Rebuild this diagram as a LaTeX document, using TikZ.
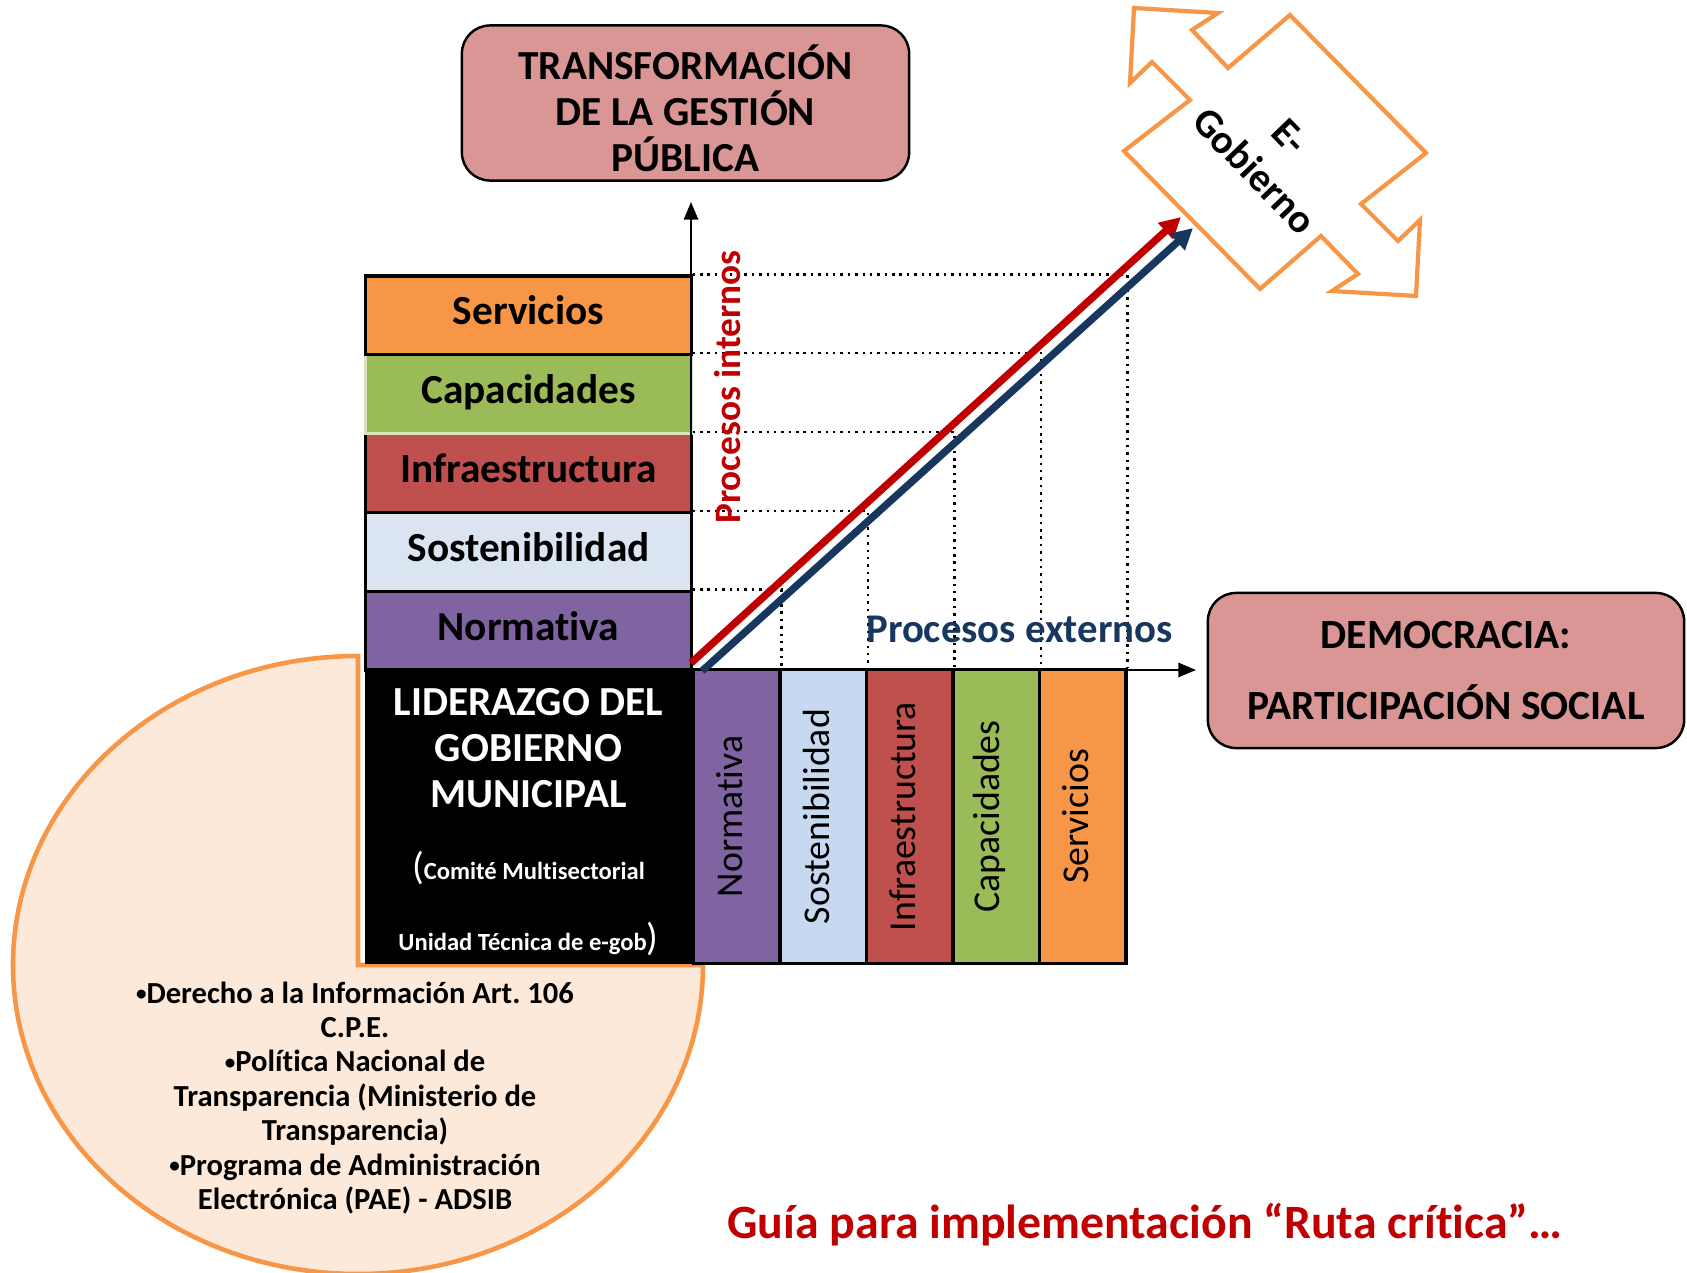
\documentclass[tikz,border=0pt]{standalone}
\usepackage{fontspec}
\setmainfont{Carlito}[Ligatures=NoCommon]
\usetikzlibrary{arrows.meta, positioning, calc}
\frenchspacing

\definecolor{pinkbox}{HTML}{D99694}
\definecolor{egorange}{HTML}{F79646}
\definecolor{peach}{HTML}{FDE9D9}
\definecolor{normcol}{HTML}{8064A2}
\definecolor{sostcol}{HTML}{DBE5F1}
\definecolor{sostcolB}{HTML}{C6D9F1}
\definecolor{infracol}{HTML}{C0504D}
\definecolor{capcol}{HTML}{9BBB59}
\definecolor{capline}{HTML}{D7E4BD}
\definecolor{servcol}{HTML}{F79646}
\definecolor{rutared}{HTML}{C00000}
\definecolor{navy}{HTML}{17375E}

\newcommand{\bul}{\raisebox{0.7pt}{\fontsize{6}{6}\selectfont•}}

\begin{document}
\begin{tikzpicture}[x=0.01cm, y=-0.01cm,
    % label and box styles
    lbl/.style={font=\bfseries\fontsize{11.75}{13.1}\selectfont},
    roundbox/.style={lbl, draw, line width=0.7pt, fill=pinkbox, rounded corners=8pt, align=center, inner sep=2pt},
    stackbox/.style={lbl, draw, line width=0.9pt, minimum width=3.25cm, minimum height=0.788cm, inner sep=0pt, text height=8pt, text depth=2.6pt},
    colbox/.style={draw, line width=0.9pt, minimum width=0.865cm, minimum height=2.93cm, inner sep=0pt, font=\fontsize{10.75}{12}\selectfont},
    lidbox/.style={lbl, draw, fill=black, text=white, minimum width=3.25cm, minimum height=2.93cm, inner sep=0pt, align=center},
    gridline/.style={line width=0.7pt, dash pattern=on 0.7pt off 1.4pt},
    axis/.style={line width=0.7pt, -{Triangle[length=5pt, width=4pt]}},
    route/.style={line width=2.1pt, -{Triangle[length=6pt, width=6pt]}},
    egarrow/.style={draw=egorange, fill=white, line width=1.2pt, line join=miter}]

\useasboundingbox (0,0) rectangle (1687,1273);

% Three-quarter disc with the legal framework
\filldraw[draw=egorange, fill=peach, line width=1.3pt]
    (358,656) arc[start angle=270, end angle=0, x radius=345, y radius=309] -- (358,965) -- cycle;
\node[align=center, font=\bfseries\fontsize{8.7}{9.8}\selectfont] (leyes) at (355,1098)
    {\bul Derecho a la Información Art. 106\\C.P.E.\\\bul Política Nacional de\\Transparencia (Ministerio de\\Transparencia)\\\bul Programa de Administración\\Electrónica (PAE) - ADSIB};

% Leadership block
\node[lidbox] (lid) at (528.5,816.5) {\rule{0pt}{11pt}LIDERAZGO DEL\\GOBIERNO\\MUNICIPAL\\[7.4pt]%
    {\mdseries\fontsize{11}{13.1}\selectfont(}{\fontsize{7}{8}\selectfont Comité Multisectorial}\\[7.1pt]%
    {\fontsize{7}{8}\selectfont Unidad Técnica de e-gob}{\mdseries\fontsize{11}{13.1}\selectfont)}};

% Internal (stack) and external (column) processes
\foreach \txt/\col/\colB/\bd [count=\i from 0] in {Normativa/normcol/normcol/black,
    Sostenibilidad/sostcol/sostcolB/black, Infraestructura/infracol/infracol/black,
    Capacidades/capcol/capcol/capline, Servicios/servcol/servcol/black} {
  \node[stackbox, fill=\col, draw=\bd] (s\i) at (528.5,{670-(\i+0.5)*78.8}) {\txt};
  \node[colbox, fill=\colB] (c\i) at ({693.5+(\i+0.5)*86.5},816.5) {\rotatebox{90}{\txt}\hspace*{4pt}};
  \draw[gridline] (s\i.north east) -| (c\i.north east);
}

% Goal boxes
\node[roundbox, minimum width=4.47cm, minimum height=1.55cm] (tgp) at (685.5,103)
    {\rule{0pt}{13pt}TRANSFORMACIÓN\\DE LA GESTIÓN\\PÚBLICA};
\node[roundbox, minimum width=4.76cm, minimum height=1.55cm, font=\bfseries\fontsize{11.8}{13.1}\selectfont] (dem) at (1446,670.5)
    {DEMOCRACIA:\\[6.9pt]PARTICIPACIÓN SOCIAL};

% E-Gobierno double arrow
\draw[egarrow] (1134,8) -- (1218,13) -- (1192,30) -- (1228,68) -- (1290,15) -- (1426,153)
    -- (1361,204) -- (1398,241) -- (1420,220) -- (1416,296) -- (1332,291) -- (1358,274)
    -- (1321,236) -- (1260,289) -- (1124,151) -- (1190,100) -- (1152,62) -- (1130,83) -- cycle;
\node[rotate=-46, align=center, font=\bfseries\fontsize{11.5}{14.2}\selectfont] (egob) at (1272,154) {E-\\Gobierno};

% Axes
\coordinate (o) at (691,670);
\coordinate (ytip) at (691,202);
\coordinate (xtip) at (1196,670);
\draw[axis] (o) -- (ytip);
\draw[axis] (o) -- (xtip);
\node[rotate=90, text=rutared, font=\bfseries\fontsize{10.6}{12}\selectfont] (pint) at (728,387) {Procesos internos};
\node[text=navy, font=\bfseries\fontsize{11.6}{13}\selectfont] (pext) at (1019.5,629) {Procesos externos};

% Critical route arrows
\coordinate (rs) at (691,663);
\coordinate (re) at (1181,217);
\coordinate (bs) at (702,671);
\coordinate (be) at (1193,228);
\draw[route, rutared] (rs) -- (re);
\draw[route, navy] (bs) -- (be);

\node[text=rutared, font=\bfseries\fontsize{13.6}{16}\selectfont] (guia) at (1145,1225)
    {Guía para implementación “Ruta crítica”…};

\end{tikzpicture}
\end{document}
